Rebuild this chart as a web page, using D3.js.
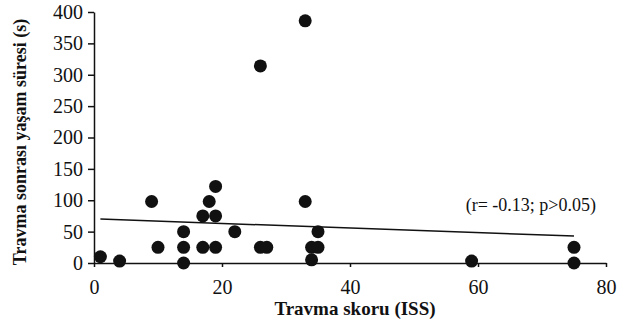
<!DOCTYPE html>
<html>
<head>
<meta charset="utf-8">
<script src="https://cdn.jsdelivr.net/npm/d3@7"></script>
<style>
  body { margin: 0; background: #fff; }
  text { font-family: "Liberation Serif", "DejaVu Serif", serif; }
</style>
</head>
<body>
<div id="chart"></div>
<script>
// data: ISS score vs survival time
var issScores = [1, 4, 9, 10, 14, 14, 14, 17, 19, 17, 19, 18, 19, 22, 26, 26, 27, 33, 33, 34, 34, 35, 35, 59, 75, 75];
var survival  = [10, 3, 98, 25, 50, 25, 0, 25, 25, 75, 75, 98, 122, 50, 314, 25, 25, 386, 98, 5, 25, 25, 50, 3, 25, 0];
var fitX = [1, 75];
var fitY = [70, 43];
var xTicks = [0, 20, 40, 60, 80];
var yTicks = [0, 50, 100, 150, 200, 250, 300, 350, 400];

var width = 628, height = 325;
var margin = { top: 12, right: 22, bottom: 62, left: 94 };

var svg = d3.select("#chart").append("svg")
    .attr("width", width)
    .attr("height", height);

var x = d3.scaleLinear().domain([0, 80]).range([margin.left, width - margin.right]);
var y = d3.scaleLinear().domain([0, 400]).range([height - margin.bottom, margin.top]);

// axes
var xAxis = svg.append("g")
    .attr("transform", "translate(0," + y(0) + ")")
    .call(d3.axisBottom(x).tickValues(xTicks).tickSize(4).tickPadding(13).tickSizeOuter(0));
var yAxis = svg.append("g")
    .attr("transform", "translate(" + x(0) + ",0)")
    .call(d3.axisLeft(y).tickValues(yTicks).tickSize(6).tickPadding(5).tickSizeOuter(0));

[xAxis, yAxis].forEach(function (g) {
    g.selectAll("path, line").attr("stroke", "#111").attr("stroke-width", 1.5);
    g.selectAll("text")
        .attr("fill", "#111")
        .style("font-size", "20px")
        .style("font-family", "Liberation Serif, serif");
});

// regression line
svg.append("line")
    .attr("x1", x(fitX[0])).attr("y1", y(fitY[0]))
    .attr("x2", x(fitX[1])).attr("y2", y(fitY[1]))
    .attr("stroke", "#111")
    .attr("stroke-width", 1.5);

// points
svg.selectAll("circle.pt")
    .data(issScores.map(function (d, i) { return { iss: d, t: survival[i] }; }))
    .enter().append("circle")
    .attr("class", "pt")
    .attr("cx", function (d) { return x(d.iss); })
    .attr("cy", function (d) { return y(d.t); })
    .attr("r", 6.5)
    .attr("fill", "#111");

// annotation
svg.append("text")
    .attr("x", 596).attr("y", 211)
    .attr("text-anchor", "end")
    .style("font-size", "18px")
    .attr("fill", "#111")
    .text("(r= -0.13; p>0.05)");

// axis titles
svg.append("text")
    .attr("x", 355).attr("y", 315)
    .attr("text-anchor", "middle")
    .style("font-size", "19px")
    .style("font-weight", "bold")
    .attr("fill", "#111")
    .text("Travma skoru (ISS)");

svg.append("text")
    .attr("transform", "translate(26," + 142 + ") rotate(-90)")
    .attr("text-anchor", "middle")
    .style("font-size", "18px")
    .style("font-weight", "bold")
    .attr("fill", "#111")
    .text("Travma sonrası yaşam süresi (s)");
</script>
</body>
</html>
